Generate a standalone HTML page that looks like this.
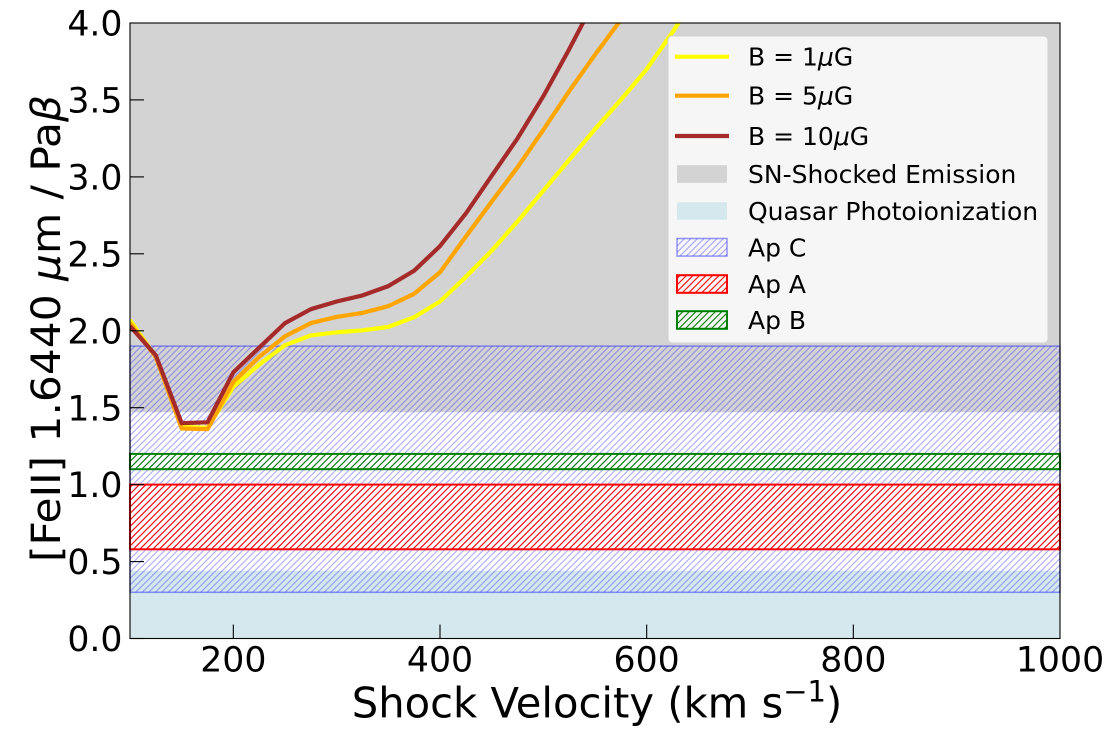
<!DOCTYPE html>
<html>
<head>
<meta charset="utf-8">
<style>
html,body{margin:0;padding:0;background:#fff;}
svg{display:block;}
text{font-family:"DejaVu Sans","Liberation Sans",sans-serif;fill:#000;}
</style>
</head>
<body>
<svg width="1114" height="744" viewBox="0 0 1114 744" xmlns="http://www.w3.org/2000/svg">
<defs>
<pattern id="hb" patternUnits="userSpaceOnUse" width="6.5" height="6.5">
<path d="M-1,1 L1,-1 M0,6.5 L6.5,0 M5.5,7.5 L7.5,5.5" stroke="#0000ff" stroke-opacity="0.3" stroke-width="1.2"/>
</pattern>
<pattern id="hr" patternUnits="userSpaceOnUse" width="6.5" height="6.5">
<path d="M-1,1 L1,-1 M0,6.5 L6.5,0 M5.5,7.5 L7.5,5.5" stroke="#ff0000" stroke-width="1.1"/>
</pattern>
<pattern id="hg" patternUnits="userSpaceOnUse" width="6.5" height="6.5">
<path d="M-1,1 L1,-1 M0,6.5 L6.5,0 M5.5,7.5 L7.5,5.5" stroke="#008000" stroke-width="1.1"/>
</pattern>
<clipPath id="pa"><rect x="130" y="23" width="930" height="615.5"/></clipPath>
</defs>

<!-- bands -->
<rect x="130" y="23" width="930" height="389.3" fill="#d3d3d3"/>
<rect x="130" y="570.8" width="930" height="67.7" fill="#d4e8ee"/>
<rect x="130" y="346.1" width="930" height="246.2" fill="url(#hb)" stroke="#0000ff" stroke-opacity="0.4" stroke-width="1.5"/>
<rect x="130" y="484.6" width="930" height="64.7" fill="url(#hr)" stroke="#ff0000" stroke-width="2"/>
<rect x="130" y="453.9" width="930" height="15.3" fill="url(#hg)" stroke="#008000" stroke-width="2"/>

<!-- curves -->
<g clip-path="url(#pa)" fill="none" stroke-width="4.2" stroke-linejoin="round">
<polyline stroke="#ffff00" points="130,320.0 155.83,356.9 181.67,426.9 207.5,427.7 233.33,386.9 259.17,364.6 285,345.2 310.83,335.4 336.67,332.3 362.5,330.3 388.33,326.9 414.17,317.2 440,301.5 465.83,276.9 491.67,250.7 517.5,221.5 543.33,190.7 569.17,159.9 595,129.2 620.83,99.9 646.67,69.2 672.5,32.2 698.33,-7.8"/>
<polyline stroke="#ffa500" points="130,323.1 155.83,356.9 181.67,428.5 207.5,429.2 233.33,382.0 259.17,356.9 285,336.3 310.83,323.1 336.67,316.9 362.5,312.9 388.33,306.1 414.17,293.8 440,272.3 465.83,236.6 491.67,201.6 517.5,167.3 543.33,129.8 569.17,91.2 595,54.7 620.83,19.9 646.67,-15.5"/>
<polyline stroke="#a52a2a" points="130,326.1 155.83,355.4 181.67,423.1 207.5,422.3 233.33,372.3 259.17,347.7 285,323.1 310.83,309.2 336.67,301.5 362.5,295.4 388.33,286.1 414.17,270.7 440,246.1 465.83,213.5 491.67,175.8 517.5,138.4 543.33,96.2 569.17,49.2 595,-0.1"/>
</g>

<!-- ticks -->
<g stroke="#000" stroke-width="1.1">
<line x1="130" y1="638.5" x2="144" y2="638.5"/>
<line x1="130" y1="561.6" x2="144" y2="561.6"/>
<line x1="130" y1="484.6" x2="144" y2="484.6"/>
<line x1="130" y1="407.7" x2="144" y2="407.7"/>
<line x1="130" y1="330.8" x2="144" y2="330.8"/>
<line x1="130" y1="253.8" x2="144" y2="253.8"/>
<line x1="130" y1="176.9" x2="144" y2="176.9"/>
<line x1="130" y1="99.9" x2="144" y2="99.9"/>
<line x1="233.33" y1="638.5" x2="233.33" y2="624.5"/>
<line x1="440" y1="638.5" x2="440" y2="624.5"/>
<line x1="646.67" y1="638.5" x2="646.67" y2="624.5"/>
<line x1="853.33" y1="638.5" x2="853.33" y2="624.5"/>
</g>
<rect x="130" y="23" width="930" height="615.5" fill="none" stroke="#000" stroke-width="1.1"/>

<!-- tick labels -->
<g font-size="34.7" text-anchor="end">
<text x="122.5" y="651.1">0.0</text>
<text x="122.5" y="574.2">0.5</text>
<text x="122.5" y="497.2">1.0</text>
<text x="122.5" y="420.3">1.5</text>
<text x="122.5" y="343.4">2.0</text>
<text x="122.5" y="266.4">2.5</text>
<text x="122.5" y="189.5">3.0</text>
<text x="122.5" y="112.5">3.5</text>
<text x="122.5" y="35.6">4.0</text>
</g>
<g font-size="34.7" text-anchor="middle">
<text x="233.33" y="671.5">200</text>
<text x="440" y="671.5">400</text>
<text x="646.67" y="671.5">600</text>
<text x="853.33" y="671.5">800</text>
<text x="1060" y="671.5">1000</text>
</g>

<!-- axis labels -->
<text x="597" y="717.5" text-anchor="middle" font-size="41.7">Shock Velocity (km s<tspan dy="-16" font-size="29">−1</tspan><tspan dy="16">)</tspan></text>
<text transform="translate(60,328.5) rotate(-90)" text-anchor="middle" font-size="40" textLength="467" lengthAdjust="spacingAndGlyphs">[FeII] 1.6440 <tspan font-style="italic">μ</tspan>m / Pa<tspan font-style="italic">β</tspan></text>

<!-- legend -->
<rect x="668" y="36" width="380" height="307" rx="4" ry="4" fill="#f6f6f6" stroke="#d0d0d0" stroke-width="1"/>
<g stroke-width="4.2">
<line x1="675" y1="56.7" x2="729" y2="56.7" stroke="#ffff00"/>
<line x1="675" y1="95.7" x2="729" y2="95.7" stroke="#ffa500"/>
<line x1="675" y1="136" x2="729" y2="136" stroke="#a52a2a"/>
</g>
<rect x="677" y="165.2" width="50" height="17.6" fill="#d3d3d3"/>
<rect x="677" y="202.2" width="50" height="17.6" fill="#d4e8ee"/>
<rect x="677" y="238.5" width="50" height="17.6" fill="url(#hb)" stroke="#0000ff" stroke-opacity="0.4" stroke-width="1.5"/>
<rect x="677" y="275.2" width="50" height="17.6" fill="url(#hr)" stroke="#ff0000" stroke-width="2"/>
<rect x="677" y="311.2" width="50" height="17.6" fill="url(#hg)" stroke="#008000" stroke-width="2"/>
<g font-size="25">
<text x="748" y="65.7">B = 1<tspan font-style="italic">μ</tspan>G</text>
<text x="748" y="104.7">B = 5<tspan font-style="italic">μ</tspan>G</text>
<text x="748" y="145">B = 10<tspan font-style="italic">μ</tspan>G</text>
<text x="748" y="183">SN-Shocked Emission</text>
<text x="748" y="220">Quasar Photoionization</text>
<text x="748" y="256.3">Ap C</text>
<text x="748" y="293">Ap A</text>
<text x="748" y="329">Ap B</text>
</g>
</svg>
</body>
</html>
